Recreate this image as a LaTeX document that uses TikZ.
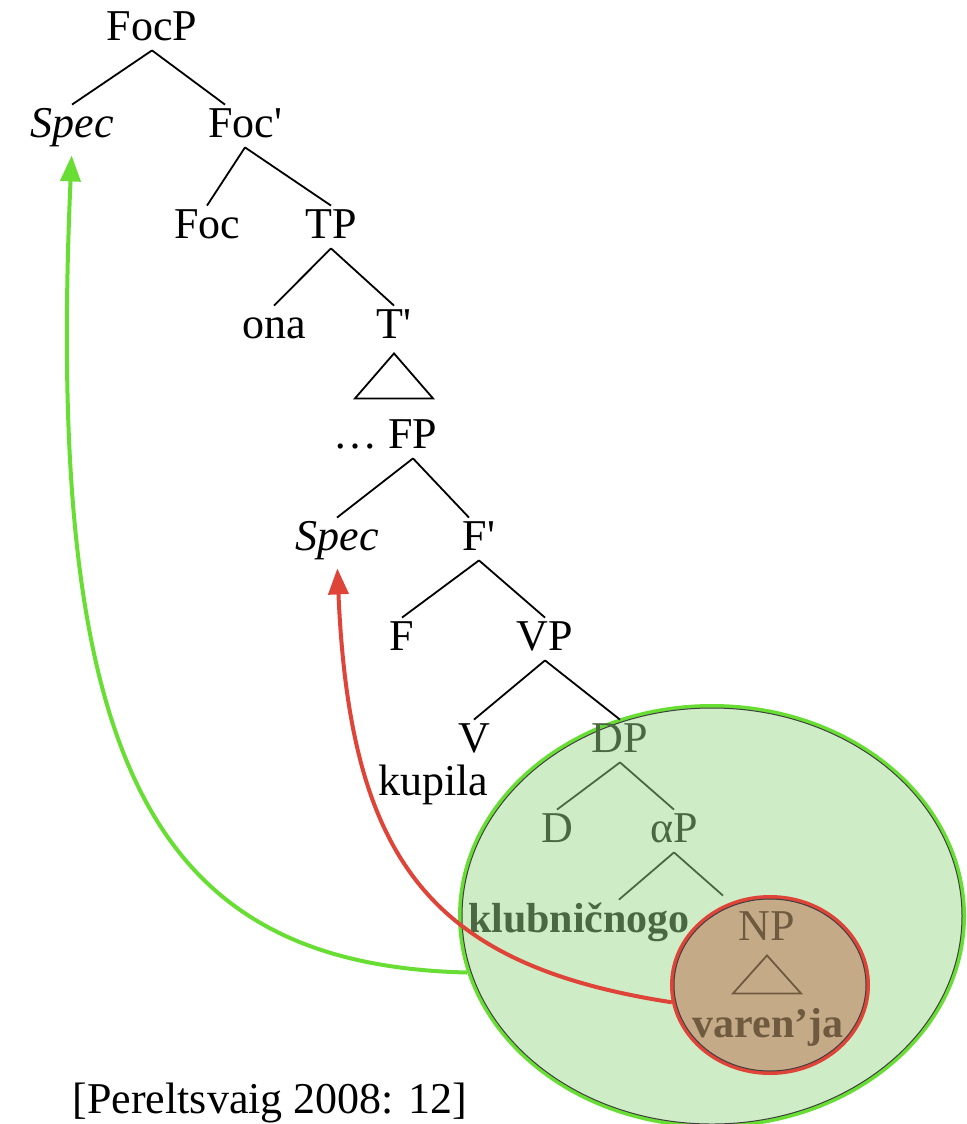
\documentclass[tikz,border=0pt]{standalone}
\usepackage{fontspec}
\setmainfont{Liberation Serif}
\usetikzlibrary{arrows.meta,shapes.geometric,positioning}

\definecolor{dpfill}{RGB}{206,237,198}
\definecolor{dpline}{RGB}{104,222,52}
\definecolor{dptext}{RGB}{74,104,66}
\definecolor{npfill}{RGB}{197,170,135}
\definecolor{npline}{RGB}{222,68,56}
\definecolor{nptext}{RGB}{110,90,62}

\begin{document}
\begin{tikzpicture}[x=0.5pt,y=-0.5pt,
  lbl/.style={anchor=base,inner sep=1pt,text height=15pt,text depth=4pt,
              font=\fontsize{22}{26}\selectfont},
  br/.style={line width=0.9pt},
  mv/.style={line width=2pt,shorten >=4pt,-{Triangle[length=13pt,width=10pt]}}]

  \useasboundingbox (0,0) rectangle (966,1124);

  % circles first, text on top
  \node[ellipse,fill=dpfill,draw=dpline,line width=2pt,inner sep=0pt,
        minimum width=252pt,minimum height=210pt] (dpE) at (712,916) {};
  \draw[black!75,line width=0.5pt] (712,916) ellipse [x radius=125pt,y radius=104pt];
  \node[ellipse,fill=npfill,draw=npline,line width=2pt,inner sep=0pt,
        minimum width=98pt,minimum height=88pt] (npE) at (770,985) {};
  \draw[black!75,line width=0.5pt] (770,985) ellipse [x radius=48pt,y radius=43pt];

  \node[lbl] (focp)  at (152,40)  {FocP};
  \node[lbl] (spec1) at (72,137)  {\itshape Spec};
  \node[lbl] (focb)  at (245,137) {Foc\textquotesingle};
  \node[lbl] (foc)   at (207,238) {Foc};
  \node[lbl] (tp)    at (331,238) {TP};
  \node[lbl] (ona)   at (274,338) {ona};
  \node[lbl] (tbar)  at (394,338) {T\textquotesingle};
  \node[lbl] (dots)  at (355,448) {\dots};
  \node[lbl] (fp)    at (413,448) {FP};
  \node[lbl] (spec2) at (337,550) {\itshape Spec};
  \node[lbl] (fbar)  at (479,550) {F\textquotesingle};
  \node[lbl] (f)     at (402,650) {F};
  \node[lbl] (vp)    at (545,650) {VP};
  \node[lbl] (v)     at (474,752) {V};
  \node[lbl] (kup)   at (433,795) {kupila};
  \node[lbl,text=dptext] (dp) at (620,752) {DP};
  \node[lbl,text=dptext] (d)  at (557,842) {D};
  \node[lbl,text=dptext] (ap) at (674,842) {αP};
  \node[lbl,text=dptext,font=\fontsize{21}{26}\selectfont\bfseries] (klub) at (579,932) {klubničnogo};
  \node[lbl,text=nptext] (np) at (767,940) {NP};
  \node[lbl,text=nptext,font=\fontsize{21}{26}\selectfont\bfseries] (varenja) at (768,1037) {varen’ja};

  \node[lbl] (src) at (270,1113) {[Pereltsvaig 2008: 12]};

  \path[br] (focp.south) edge (spec1.north)
                         edge ([xshift=-10pt]focb.north)
            (focb.south) edge (foc.north)
                         edge (tp.north)
            (tp.south)   edge (ona.north)
                         edge (tbar.north)
            (fp.south)   edge (spec2.north)
                         edge ([xshift=-5pt]fbar.north)
            (fbar.south) edge (f.north)
                         edge (vp.north)
            (vp.south)   edge (v.north)
                         edge (dp.north);
  \path[br,dptext] (dp.south) edge (d.north)
                              edge (ap.north)
                   (ap.south) edge ([xshift=20pt]klub.north)
                              edge ([xshift=-22pt,yshift=6pt]np.north);

  \draw[br] (tbar.south) ++(0,5) -- ++(39,45) -- ++(-78,0) -- cycle;
  \draw[br,nptext] (np.south) ++(0,5) -- ++(34,38) -- ++(-68,0) -- cycle;

  % movement arrows
  \draw[mv,dpline] (dpE.193) .. controls (150,965) and (45,760) .. (spec1.south);
  \draw[mv,npline] (npE.190) .. controls (430,965) and (350,860) .. (spec2.south);

\end{tikzpicture}
\end{document}
